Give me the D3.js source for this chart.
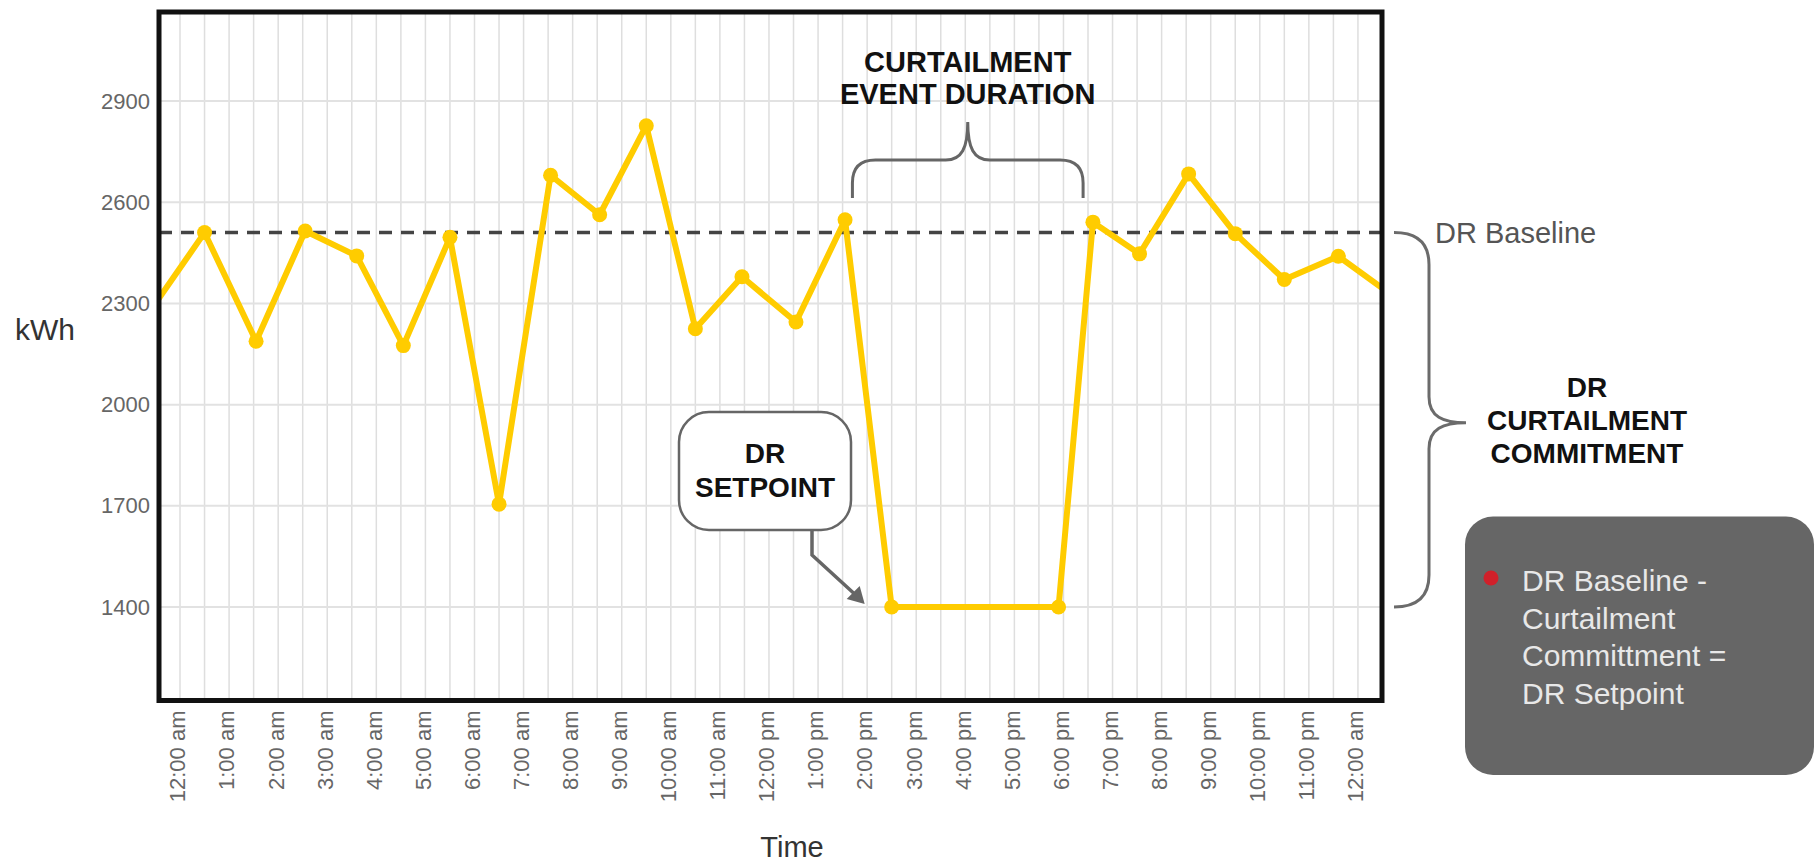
<!DOCTYPE html>
<html>
<head>
<meta charset="utf-8">
<script src="https://cdn.jsdelivr.net/npm/d3@7"></script>
<style>
  html, body { margin: 0; padding: 0; background: #fff; }
  svg { display: block; font-family: "Liberation Sans", Arial, Helvetica, sans-serif; }
</style>
</head>
<body>
<svg id="chart" width="1820" height="864"></svg>
<script>
// ---- data ----
const hours = [-0.5, 0.5, 1.55, 2.55, 3.6, 4.55, 5.5, 6.5, 7.55, 8.55, 9.5, 10.5, 11.45, 12.55, 13.55, 14.5, 17.9, 18.6, 19.55, 20.55, 21.5, 22.5, 23.6, 24.5];
const kwh   = [2300, 2510, 2188, 2515, 2441, 2175, 2496, 1705, 2680, 2563, 2827, 2225, 2379, 2245, 2548, 1400, 1400, 2541, 2447, 2684, 2507, 2371, 2440, 2345];
const baselineKwh = 2510;
const setpointKwh = 1400;
const yTicks = [1400, 1700, 2000, 2300, 2600, 2900];
const xTickHours = d3.range(0, 25);
const xTickLabels = ["12:00 am","1:00 am","2:00 am","3:00 am","4:00 am","5:00 am","6:00 am","7:00 am","8:00 am","9:00 am","10:00 am","11:00 am","12:00 pm","1:00 pm","2:00 pm","3:00 pm","4:00 pm","5:00 pm","6:00 pm","7:00 pm","8:00 pm","9:00 pm","10:00 pm","11:00 pm","12:00 am"];
const eventStartHour = 13.7, eventEndHour = 18.4;
const boxLines = ["DR Baseline -", "Curtailment", "Committment =", "DR Setpoint"];

// ---- layout ----
const L = 159, R = 1382, T = 12, B = 700.5;
const svg = d3.select("#chart");
const x = d3.scaleLinear().domain([-0.428, 24.49]).range([L, R]);
const y = d3.scaleLinear().domain([1123, 3164]).range([B, T]);

svg.append("defs").append("clipPath").attr("id", "plotclip")
  .append("rect").attr("x", L).attr("y", T).attr("width", R - L).attr("height", B - T);

// grid
const grid = svg.append("g");
grid.selectAll("line.v").data(d3.range(0, 24.01, 0.5)).join("line")
  .attr("x1", d => x(d)).attr("x2", d => x(d)).attr("y1", T).attr("y2", B)
  .attr("stroke", "#dedede").attr("stroke-width", 1.5);
grid.selectAll("line.h").data(yTicks).join("line")
  .attr("x1", L).attr("x2", R).attr("y1", d => y(d)).attr("y2", d => y(d))
  .attr("stroke", "#e2e2e2").attr("stroke-width", 2);

// baseline dashed
svg.append("line")
  .attr("x1", L).attr("x2", R).attr("y1", y(baselineKwh)).attr("y2", y(baselineKwh))
  .attr("stroke", "#444").attr("stroke-width", 3.5).attr("stroke-dasharray", "13,9");

// series
const pts = hours.map((h, i) => ({h, v: kwh[i]}));
const plot = svg.append("g").attr("clip-path", "url(#plotclip)");
plot.append("path").datum(pts)
  .attr("d", d3.line().x(d => x(d.h)).y(d => y(d.v)))
  .attr("fill", "none").attr("stroke", "#FFCC00").attr("stroke-width", 6)
  .attr("stroke-linejoin", "round");
plot.selectAll("circle").data(pts.filter(d => d.h >= 0 && d.h <= 24)).join("circle")
  .attr("cx", d => x(d.h)).attr("cy", d => y(d.v)).attr("r", 7.5).attr("fill", "#FFCC00");

// frame
svg.append("rect").attr("x", L).attr("y", T).attr("width", R - L).attr("height", B - T)
  .attr("fill", "none").attr("stroke", "#111").attr("stroke-width", 5);

// axes
const yAxis = svg.append("g").attr("transform", `translate(${L},0)`)
  .call(d3.axisLeft(y).tickValues(yTicks).tickSize(0).tickPadding(9).tickFormat(d3.format("d")));
yAxis.select(".domain").remove();
yAxis.selectAll("text").attr("font-size", 22).attr("fill", "#666").style("font-family", "Liberation Sans, Arial, sans-serif");

const xAxis = svg.append("g").attr("transform", `translate(0,${B})`)
  .call(d3.axisBottom(x).tickValues(xTickHours).tickSize(0).tickFormat((d, i) => xTickLabels[i]));
xAxis.select(".domain").remove();
xAxis.selectAll("text")
  .attr("font-size", 22).attr("fill", "#666").style("font-family", "Liberation Sans, Arial, sans-serif")
  .attr("text-anchor", "end").attr("transform", "rotate(-90)")
  .attr("x", -10).attr("y", 0).attr("dy", "0.22em");

// axis titles
svg.append("text").attr("x", 15).attr("y", 340).attr("font-size", 30).attr("fill", "#333").text("kWh");
svg.append("text").attr("x", 792).attr("y", 857).attr("text-anchor", "middle").attr("font-size", 29).attr("fill", "#333").text("Time");

// curtailment event brace
const xl = x(eventStartHour), xr = x(eventEndHour), xm = (xl + xr) / 2;
const yLeg = 198, yBar = 160, yTip = 122;
svg.append("path")
  .attr("d", `M${xl},${yLeg} L${xl},${yBar+23} Q${xl},${yBar} ${xl+23},${yBar} L${xm-22},${yBar} C${xm-6},${yBar} ${xm},${yBar-12} ${xm},${yTip}
              C${xm},${yBar-12} ${xm+6},${yBar} ${xm+22},${yBar} L${xr-23},${yBar} Q${xr},${yBar} ${xr},${yBar+23} L${xr},${yLeg}`)
  .attr("fill", "none").attr("stroke", "#666").attr("stroke-width", 3);
const evt = svg.append("text").attr("text-anchor", "middle").attr("font-size", 29).attr("font-weight", "bold").attr("fill", "#111");
evt.append("tspan").attr("x", xm).attr("y", 72).text("CURTAILMENT");
evt.append("tspan").attr("x", xm).attr("y", 104).text("EVENT DURATION");

// setpoint callout
const cb = {x: 679, y: 412, w: 172, h: 118};
svg.append("rect").attr("x", cb.x).attr("y", cb.y).attr("width", cb.w).attr("height", cb.h).attr("rx", 30)
  .attr("fill", "#fff").attr("stroke", "#666").attr("stroke-width", 2.5);
const sp = svg.append("text").attr("text-anchor", "middle").attr("font-size", 28).attr("font-weight", "bold").attr("fill", "#111");
sp.append("tspan").attr("x", cb.x + cb.w / 2).attr("y", 463).text("DR");
sp.append("tspan").attr("x", cb.x + cb.w / 2).attr("y", 497).text("SETPOINT");
const ax0 = 812, ay0 = cb.y + cb.h, ay1 = 555;
const tipX = x(13.95), tipY = y(setpointKwh) - 3;
svg.append("path").attr("d", `M${ax0},${ay0} L${ax0},${ay1} L${tipX-9},${tipY-9}`)
  .attr("fill", "none").attr("stroke", "#666").attr("stroke-width", 3.5);
svg.append("path").attr("d", `M${tipX},${tipY} L${tipX-18},${tipY-5} L${tipX-5},${tipY-18} Z`).attr("fill", "#666");

// right brace (commitment)
const bx0 = 1394, bxb = 1429, bxt = 1466;
const byT = y(baselineKwh), byB = y(setpointKwh), byM = (byT + byB) / 2 + 3;
svg.append("path")
  .attr("d", `M${bx0},${byT} Q${bxb},${byT} ${bxb},${byT+32} L${bxb},${byM-26} C${bxb},${byM-6} ${bxb+14},${byM} ${bxt},${byM}
              C${bxb+14},${byM} ${bxb},${byM+6} ${bxb},${byM+26} L${bxb},${byB-32} Q${bxb},${byB} ${bx0},${byB}`)
  .attr("fill", "none").attr("stroke", "#6b6b6b").attr("stroke-width", 3);
svg.append("text").attr("x", 1435).attr("y", 243).attr("font-size", 29).attr("fill", "#555").text("DR Baseline");
const cc = svg.append("text").attr("text-anchor", "middle").attr("font-size", 28).attr("font-weight", "bold").attr("fill", "#111");
["DR", "CURTAILMENT", "COMMITMENT"].forEach((t, i) => cc.append("tspan").attr("x", 1587).attr("y", 397 + i * 33).text(t));

// gray note box
svg.append("rect").attr("x", 1465).attr("y", 516.5).attr("width", 349).attr("height", 258.5).attr("rx", 28).attr("fill", "#666");
svg.append("circle").attr("cx", 1491).attr("cy", 578).attr("r", 7.5).attr("fill", "#d0202a");
const nt = svg.append("text").attr("font-size", 30).attr("fill", "#e8e8e8");
boxLines.forEach((t, i) => nt.append("tspan").attr("x", 1522).attr("y", 591 + i * 37.5).text(t));
</script>
</body>
</html>
